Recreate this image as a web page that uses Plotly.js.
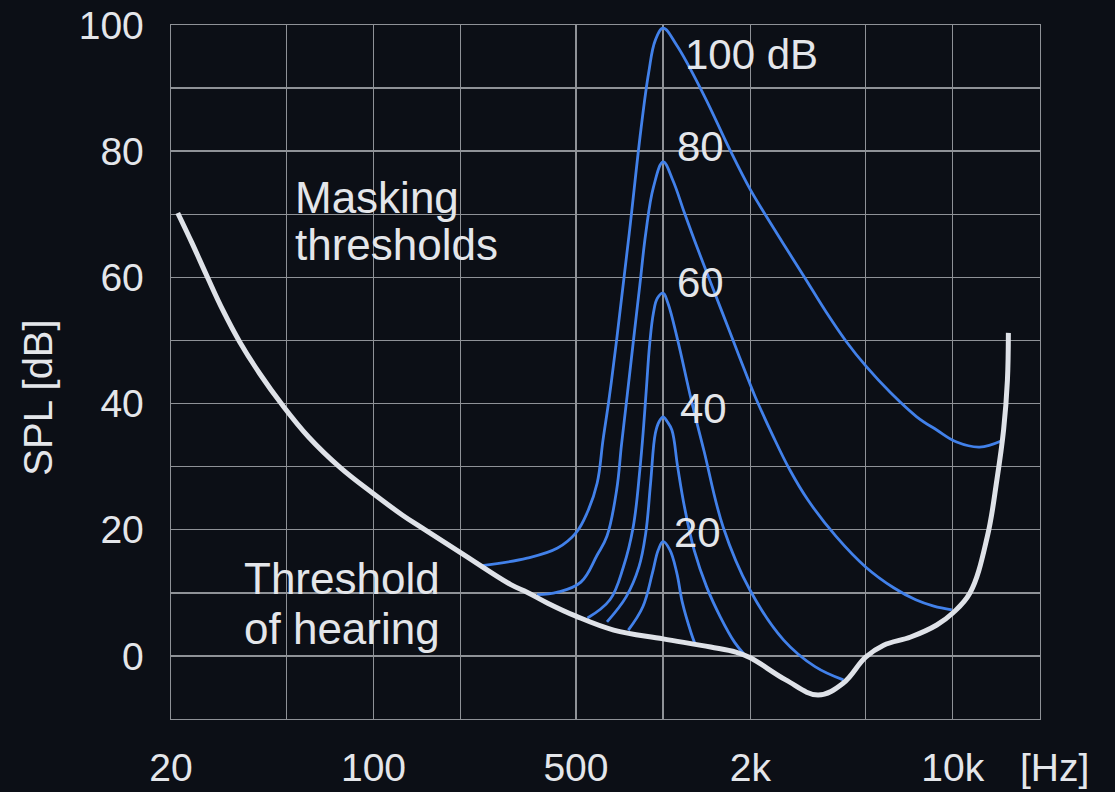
<!DOCTYPE html>
<html>
<head>
<meta charset="utf-8">
<script src="https://cdn.plot.ly/plotly-3.0.1.min.js"></script>
<style>
html,body{margin:0;padding:0;background:#0c0f16;}
#chart{width:1115px;height:792px;}
</style>
</head>
<body>
<div id="chart"></div>
<script>
// ---- data ----
const thresholdHz = [21.1, 23.6, 26.8, 30.2, 34.5, 40.4, 48.4, 59.7, 77.0, 100, 126, 148, 201, 298, 339, 398, 500, 675, 1000, 1459, 1782, 2000, 2650, 3427, 4190, 5000, 5771, 7156, 8803, 10000, 11470, 13155, 14196, 14973, 15437, 15555];
const thresholdDb = [70.2, 65.5, 59.9, 54.8, 49.8, 44.8, 39.8, 34.7, 29.8, 25.7, 22.3, 20.2, 16.3, 11.3, 10.1, 8.4, 6.3, 4.1, 2.7, 1.4, 0.6, -0.3, -3.8, -6.2, -4.3, -0.2, 1.7, 3.0, 4.9, 6.8, 10.0, 18.9, 27.9, 35.8, 43.7, 51.2];

const mask100Hz = [237, 339, 432, 500, 548, 592, 620, 650, 691, 764, 838, 891, 940, 1000, 1114, 1382, 1701, 2000, 2256, 2587, 3087, 3654, 4292, 5040, 6102, 7507, 8803, 10309, 12377, 14747];
const mask100Db = [14.3, 15.5, 17.1, 19.5, 22.8, 27.4, 34.2, 40.6, 50.1, 67.0, 83.4, 92.4, 97.6, 99.5, 96.8, 88.9, 80.2, 73.9, 69.9, 65.5, 59.9, 54.5, 49.8, 45.8, 41.7, 37.9, 35.8, 33.9, 33.1, 34.1];

const mask80Hz = [367, 432, 520, 592, 640, 691, 718, 752, 788, 831, 871, 926, 1000, 1080, 1185, 1309, 1493, 1701, 1910, 2082, 2387, 2736, 3162, 3960, 5000, 6250, 7447, 8596, 9921];
const mask80Db = [9.7, 10.1, 11.7, 16.0, 19.0, 26.3, 33.4, 41.4, 49.6, 58.8, 67.0, 74.3, 78.3, 75.4, 70.2, 64.8, 58.0, 51.3, 45.3, 41.0, 35.0, 29.5, 24.7, 18.9, 14.1, 10.8, 8.9, 7.9, 7.3];

const mask60Hz = [548, 655, 729, 788, 831, 857, 877, 898, 926, 955, 1000, 1039, 1122, 1250, 1382, 1612, 1985, 2607, 3345, 4190];
const mask60Db = [6.0, 8.9, 14.1, 20.4, 29.5, 36.6, 42.9, 49.3, 54.4, 56.7, 57.5, 55.9, 50.1, 40.6, 32.6, 20.4, 10.6, 2.5, -1.7, -3.8];

const mask40Hz = [640, 746, 825, 871, 905, 940, 970, 1000, 1031, 1072, 1122, 1185, 1279, 1414, 1575, 1768, 1910];
const mask40Db = [5.4, 9.4, 14.1, 19.5, 27.4, 35.3, 37.2, 37.9, 37.2, 35.8, 30.0, 23.6, 16.8, 10.9, 6.2, 2.1, 0.2];

const mask20Hz = [758, 851, 919, 962, 1000, 1055, 1114, 1166, 1250, 1289];
const mask20Db = [4.1, 7.8, 13.2, 16.8, 18.1, 16.8, 13.2, 8.4, 3.6, 1.9];

const xTickVals = [20, 50, 100, 200, 500, 1000, 2000, 5000, 10000, 20000];
const xTickText = ['20', '', '100', '', '500', '', '2k', '', '10k', ''];
const yTickVals = [-10, 0, 10, 20, 30, 40, 50, 60, 70, 80, 90, 100];
const yTickText = ['', '0', '', '20', '', '40', '', '60', '', '80', '', '100'];

const peakLabels = ['100 dB', '80', '60', '40', '20'];
const maskingLabel = ['Masking', 'thresholds'];
const thresholdLabel = ['Threshold', 'of hearing'];
const yTitle = 'SPL [dB]';
const xUnit = '[Hz]';

// ---- styles ----
const BG = '#0c0f16';
const GRID = '#8f9297';
const TXT = '#e4e6ea';
const BLUE = '#4281ea';
const WHITE = '#dfe2e8';
const FONT = 'Liberation Sans, Arial, sans-serif';

const blueLine = {color: BLUE, width: 2.8, shape: 'spline', smoothing: 1.1};
const masks = [
  [mask100Hz, mask100Db], [mask80Hz, mask80Db], [mask60Hz, mask60Db],
  [mask40Hz, mask40Db], [mask20Hz, mask20Db]
];
const traces = masks.map(([x, y]) => ({
  type: 'scatter', mode: 'lines', x: x, y: y, line: blueLine, hoverinfo: 'skip'
}));
traces.push({
  type: 'scatter', mode: 'lines', x: thresholdHz, y: thresholdDb,
  line: {color: WHITE, width: 5, shape: 'spline', smoothing: 1.1}, hoverinfo: 'skip'
});

const annFont = {family: FONT, size: 44, color: TXT};
const peakFont = {family: FONT, size: 42, color: TXT};
const peakPos = [[0.589, 0.958], [0.580, 0.825], [0.580, 0.629], [0.583, 0.447], [0.5765, 0.269]];

const annotations = [];
peakLabels.forEach((t, i) => annotations.push({
  text: t, xref: 'paper', yref: 'paper', x: peakPos[i][0], y: peakPos[i][1],
  xanchor: 'left', yanchor: 'middle', showarrow: false, font: peakFont
}));
annotations.push({text: maskingLabel[0], xref: 'paper', yref: 'paper', x: 0.1404, y: 0.752, xanchor: 'left', yanchor: 'middle', showarrow: false, font: annFont});
annotations.push({text: maskingLabel[1], xref: 'paper', yref: 'paper', x: 0.1404, y: 0.683, xanchor: 'left', yanchor: 'middle', showarrow: false, font: annFont});
annotations.push({text: thresholdLabel[0], xref: 'paper', yref: 'paper', x: 0.0817, y: 0.203, xanchor: 'left', yanchor: 'middle', showarrow: false, font: annFont});
annotations.push({text: thresholdLabel[1], xref: 'paper', yref: 'paper', x: 0.0817, y: 0.130, xanchor: 'left', yanchor: 'middle', showarrow: false, font: annFont});
annotations.push({text: yTitle, xref: 'paper', yref: 'paper', x: -0.153, y: 0.463, xanchor: 'center', yanchor: 'middle', textangle: -90, showarrow: false, font: {family: FONT, size: 40, color: TXT}});
annotations.push({text: xUnit, xref: 'paper', yref: 'paper', x: 1.017, y: -0.0706, xanchor: 'center', yanchor: 'middle', showarrow: false, font: {family: FONT, size: 39, color: TXT}});

const layout = {
  width: 1115, height: 792,
  margin: {l: 171, r: 75, t: 25, b: 73, pad: 0},
  paper_bgcolor: BG, plot_bgcolor: BG,
  showlegend: false,
  font: {family: FONT, color: TXT},
  xaxis: {
    type: 'log', range: [Math.log10(20), Math.log10(20000)],
    tickmode: 'array', tickvals: xTickVals, ticktext: xTickText,
    showgrid: true, gridcolor: GRID, gridwidth: 1.4,
    showline: true, linecolor: GRID, linewidth: 1.4, mirror: true,
    zeroline: false, ticks: '', ticklabelstandoff: 14,
    tickfont: {family: FONT, size: 39, color: TXT}, fixedrange: true
  },
  yaxis: {
    range: [-10, 100],
    tickmode: 'array', tickvals: yTickVals, ticktext: yTickText,
    showgrid: true, gridcolor: GRID, gridwidth: 1.4,
    showline: true, linecolor: GRID, linewidth: 1.4, mirror: true,
    zeroline: false, ticks: '', ticklabelstandoff: 18,
    tickfont: {family: FONT, size: 39, color: TXT}, fixedrange: true
  },
  annotations: annotations
};

Plotly.newPlot('chart', traces, layout, {displayModeBar: false, staticPlot: true});
</script>
</body>
</html>
